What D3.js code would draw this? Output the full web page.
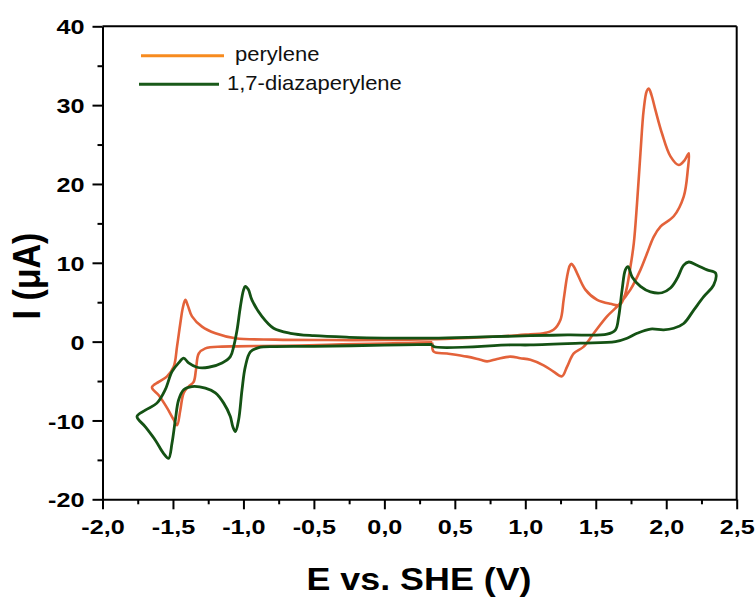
<!DOCTYPE html>
<html><head><meta charset="utf-8">
<script src="https://cdn.jsdelivr.net/npm/d3@7"></script>
<style>body{margin:0;background:#fff}svg{display:block}</style>
</head><body><svg id="c" width="756" height="597"></svg>
<script>
// ---- data ----
const seriesNames = ["perylene", "1,7-diazaperylene"];
const xTicks = [-2.0, -1.5, -1.0, -0.5, 0.0, 0.5, 1.0, 1.5, 2.0, 2.5];
const yTicks = [-20, -10, 0, 10, 20, 30, 40];
const xLabel = "E vs. SHE (V)";
const yLabel = "I (\u03bcA)";

const perE = [0.34,0.2,0.0,-0.3,-0.6,-0.892,-1.05,-1.152,-1.27,-1.317,-1.337,-1.353,-1.389,-1.424,-1.448,-1.471,-1.495,-1.542,-1.601,-1.649,
 -1.601,-1.542,-1.495,-1.471,-1.448,-1.43,-1.412,-1.395,-1.365,-1.294,-1.199,-1.057,-0.773,-0.4,0.0,0.34,0.5,0.7,0.9,1.036,1.13,1.2,1.249,1.272,1.296,1.315,1.327,1.345,1.367,1.426,1.51,1.604,1.67,
 1.71,1.746,1.77,1.793,1.817,1.84,1.862,1.876,1.895,1.923,1.97,2.03,2.089,2.13,2.16,
 2.153,2.124,2.053,1.959,1.911,1.864,1.817,1.746,1.663,1.58,1.486,1.415,1.344,1.296,1.26,1.2,1.13,1.036,0.965,0.894,0.8,0.729,0.681,0.587,0.445,0.35,0.34];
const perI = [-0.1,-0.15,-0.25,-0.35,-0.5,-0.55,-0.6,-0.63,-0.85,-1.5,-3.6,-5.1,-5.7,-6.5,-8.7,-10.6,-9.9,-8.4,-6.8,-5.8,
 -5.1,-4.4,-3.2,-0.6,2.3,4.3,5.3,4.6,3.2,1.9,1.06,0.43,0.25,0.2,0.2,0.3,0.4,0.55,0.75,0.93,1.06,1.5,2.75,5.3,8.2,9.6,9.86,9.5,8.7,6.6,5.3,4.8,4.66,
 6.1,9.5,12.5,17.6,23.9,29.4,31.8,32.1,31.3,29.4,26.4,23.5,22.4,23.0,23.9,
 21.8,18.4,15.9,14.6,13.3,11.2,9.1,6.6,4.66,3.2,1.06,-0.63,-1.5,-3.2,-4.4,-3.8,-3.0,-2.3,-2.1,-1.9,-2.2,-2.5,-2.3,-1.9,-1.5,-1.27,-0.1];

const diaE = [0.34,0.0,-0.5,-0.773,-0.892,-0.951,-0.987,-1.01,-1.034,-1.057,-1.075,-1.093,-1.14,-1.199,-1.27,-1.366,-1.424,-1.46,-1.483,-1.507,-1.531,-1.566,-1.625,-1.696,-1.755,
 -1.696,-1.614,-1.555,-1.507,-1.46,-1.424,-1.389,-1.33,-1.247,-1.152,-1.093,-1.069,-1.045,-1.022,-1.0,-0.987,-0.965,-0.94,-0.869,-0.786,-0.667,-0.5,-0.25,0.0,0.34,0.7,1.036,1.3,1.58,
 1.64,1.663,1.687,1.71,1.729,1.758,1.817,1.888,1.97,2.03,2.077,2.124,2.16,2.218,2.29,2.35,
 2.337,2.266,2.195,2.124,2.053,1.982,1.888,1.793,1.722,1.64,1.39,1.036,0.894,0.35,0.34];
const diaI = [-0.35,-0.45,-0.6,-0.63,-0.76,-1.3,-3.2,-6.1,-9.9,-11.4,-10.8,-9.5,-7.8,-6.5,-5.9,-5.7,-6.1,-7.4,-9.9,-12.9,-14.8,-14.2,-12.5,-10.8,-9.5,
 -8.7,-7.8,-6.1,-3.8,-2.7,-2.1,-2.7,-3.25,-3.25,-2.7,-1.9,-0.6,1.5,4.4,6.5,7.0,6.6,5.3,3.2,1.7,1.06,0.75,0.55,0.45,0.45,0.6,0.75,0.85,0.95,
 1.5,3.2,6.6,9.1,9.5,8.2,7.0,6.3,6.2,6.8,8.0,9.7,10.1,9.7,9.1,8.7,
 7.2,5.7,4.0,2.3,1.7,1.5,1.6,1.06,0.43,0.0,-0.2,-0.42,-0.42,-0.63,-0.35];

// ---- drawing ----
const svg = d3.select("#c");
const x = d3.scaleLinear().domain([-2, 2.5]).range([102.5, 736.7]);
const y = d3.scaleLinear().domain([-20, 40]).range([499.3, 26.3]);
const fmtX = d => d3.format(".1f")(d).replace("\u2212", "-").replace(".", ",");
const fmtY = d => String(d);
const FONT = "'Liberation Sans', Arial, sans-serif";

// frame
svg.append("line").attr("x1", x(-2)).attr("x2", x(2.5)).attr("y1", y(40)).attr("y2", y(40)).attr("stroke", "#000").attr("stroke-width", 2);
svg.append("line").attr("x1", x(2.5)).attr("x2", x(2.5)).attr("y1", y(40)).attr("y2", y(-20)).attr("stroke", "#000").attr("stroke-width", 2);

const xMinor = d3.range(-1.75, 2.5, 0.5);
const yMinor = d3.range(-15, 40, 10);

const gx = svg.append("g").attr("transform", `translate(0,${y(-20)})`)
  .call(d3.axisBottom(x).tickValues(xTicks).tickSize(10).tickSizeOuter(0).tickFormat(fmtX));
svg.append("g").attr("transform", `translate(0,${y(-20)})`)
  .call(d3.axisBottom(x).tickValues(xMinor).tickSize(5).tickSizeOuter(0).tickFormat(""))
  .call(g => g.select(".domain").remove());
const gy = svg.append("g").attr("transform", `translate(${x(-2)},0)`)
  .call(d3.axisLeft(y).tickValues(yTicks).tickSize(10).tickSizeOuter(0).tickFormat(fmtY));
svg.append("g").attr("transform", `translate(${x(-2)},0)`)
  .call(d3.axisLeft(y).tickValues(yMinor).tickSize(5).tickSizeOuter(0).tickFormat(""))
  .call(g => g.select(".domain").remove());

svg.selectAll(".domain").attr("stroke", "#000").attr("stroke-width", 2);
svg.selectAll(".tick line").attr("stroke", "#000").attr("stroke-width", 2);

gx.selectAll(".tick text")
  .attr("y", 0).attr("dy", 0)
  .attr("transform", "translate(0,35) scale(1.2,1)")
  .attr("font-family", FONT).attr("font-weight", "bold").attr("font-size", 21).attr("fill", "#000");
gy.selectAll(".tick text")
  .attr("x", 0).attr("dy", "0.36em")
  .attr("transform", "translate(-18,0) scale(1.2,1)")
  .attr("font-family", FONT).attr("font-weight", "bold").attr("font-size", 21).attr("fill", "#000");

// axis titles
svg.append("text").attr("transform", "translate(419,590) scale(1.12,1)")
  .attr("text-anchor", "middle").attr("font-family", FONT).attr("font-weight", "bold").attr("font-size", 32)
  .text(xLabel);
svg.append("text").attr("transform", "translate(40,276) scale(1.12,1) rotate(-90)")
  .attr("text-anchor", "middle").attr("font-family", FONT).attr("font-weight", "bold").attr("font-size", 34)
  .text(yLabel);

// curves
const line = d3.line().x(d => x(d[0])).y(d => y(d[1])).curve(d3.curveCatmullRom.alpha(0.5));
const perData = perE.map((e, i) => [e, perI[i]]);
const diaData = diaE.map((e, i) => [e, diaI[i]]);
const curveColors = ["#E3623A", "#145214"];
const legendColors = ["#F78B1F", "#1A5A1A"];
svg.append("path").datum(perData).attr("d", line).attr("fill", "none")
  .attr("stroke", curveColors[0]).attr("stroke-width", 2.6).attr("stroke-linejoin", "round");
svg.append("path").datum(diaData).attr("d", line).attr("fill", "none")
  .attr("stroke", curveColors[1]).attr("stroke-width", 2.8).attr("stroke-linejoin", "round");

// legend
const leg = [
  {x1: 141, x2: 224, y: 55.7, tx: 235, ty: 61, name: seriesNames[0], c: legendColors[0]},
  {x1: 139, x2: 219, y: 84.3, tx: 227, ty: 90, name: seriesNames[1], c: legendColors[1]}
];
leg.forEach(l => {
  svg.append("line").attr("x1", l.x1).attr("x2", l.x2).attr("y1", l.y).attr("y2", l.y)
    .attr("stroke", l.c).attr("stroke-width", 3);
  svg.append("text").attr("transform", `translate(${l.tx},${l.ty}) scale(1.1,1)`)
    .attr("font-family", FONT).attr("font-size", 20).attr("fill", "#111").text(l.name);
});
</script></body></html>
